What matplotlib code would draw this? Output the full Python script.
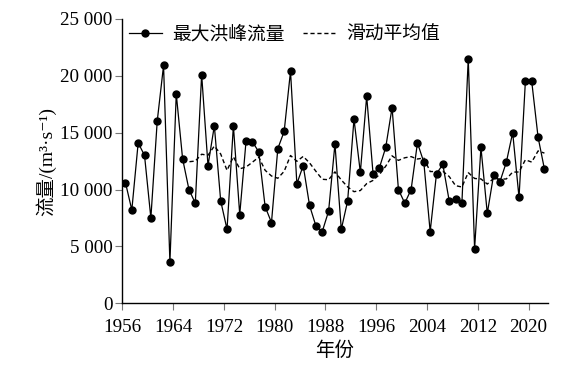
import numpy as np
import matplotlib
matplotlib.use("Agg")
import matplotlib.pyplot as plt
from matplotlib.ticker import FuncFormatter

plt.rcParams['font.family'] = ['Liberation Serif', 'Noto Sans CJK SC', 'DejaVu Serif']

years = list(range(1956, 2023))
flow = [10600, 8200, 14100, 13000, 7500, 16000, 20900, 3600, 18400, 12700,
        10000, 8800, 20100, 12100, 15600, 9000, 6500, 15600, 7800, 14300,
        14200, 13300, 8500, 7100, 13600, 15100, 20400, 10500, 12100, 8600,
        6800, 6300, 8100, 14000, 6500, 9000, 16200, 11500, 18200, 11400,
        11900, 13700, 17200, 10000, 8800, 10000, 14100, 12400, 6300, 11400,
        12200, 9000, 9200, 8800, 21500, 4800, 13700, 7900, 11300, 10700,
        12400, 15000, 9300, 19500, 19500, 14600, 11800]

# moving average (10-yr), from 1965
ma_years = list(range(1965, 2023))
ma = [12500, 12440, 12500, 13100, 13010, 13820, 13120, 11680, 12880, 11820,
      11980, 12400, 12850, 11690, 11190, 10990, 11600, 12990, 12480, 12910,
      12340, 11600, 10900, 10860, 11550, 10840, 10230, 9810, 9910, 10520,
      10800, 11310, 12050, 12960, 12560, 12790, 12890, 12680, 12770, 11580,
      11580, 11610, 11140, 10340, 10220, 11490, 10970, 10930, 10480, 10980,
      10910, 10930, 11530, 11540, 12610, 12410, 13390, 13200]

tick_years = [1956, 1964, 1972, 1980, 1988, 1996, 2004, 2012, 2020]

fig = plt.figure(figsize=(5.81, 3.69), dpi=100)
ax = fig.add_axes([0.2105, 0.178, 0.732, 0.771])

ax.plot(years, flow, color='black', lw=0.9, marker='o', ms=5,
        label='最大洪峰流量')
ax.plot(ma_years, ma, color='black', lw=1.0, ls=(0, (3, 2)),
        label='滑动平均值')

ax.set_xlim(1955.5, 2022.5)
ax.set_ylim(0, 25000)
ax.set_xticks([y - 0.5 for y in tick_years])
ax.set_xticklabels([str(y) for y in tick_years])
ax.set_yticks(range(0, 25001, 5000))
ax.yaxis.set_major_formatter(FuncFormatter(
    lambda v, p: '{:,}'.format(int(v)).replace(',', ' ')))

ax.spines['top'].set_visible(False)
ax.spines['right'].set_visible(False)
for s in ['left', 'bottom']:
    ax.spines[s].set_linewidth(1.0)
ax.tick_params(axis='both', direction='out', length=5, width=0.8,
               color='#777777', labelsize=13.8)
ax.tick_params(axis='x', pad=6)
ax.tick_params(axis='y', pad=2)

ax.set_xlabel('年份', fontsize=14, labelpad=4)
ax.set_ylabel('流量/(m³·s⁻¹)', fontsize=14, labelpad=3)

ax.legend(loc='upper left', bbox_to_anchor=(-0.025, 1.035), ncol=2, frameon=False,
          fontsize=13.5, handlelength=1.8, columnspacing=1.0, handletextpad=0.5)

fig.savefig('out.png', dpi=100)
